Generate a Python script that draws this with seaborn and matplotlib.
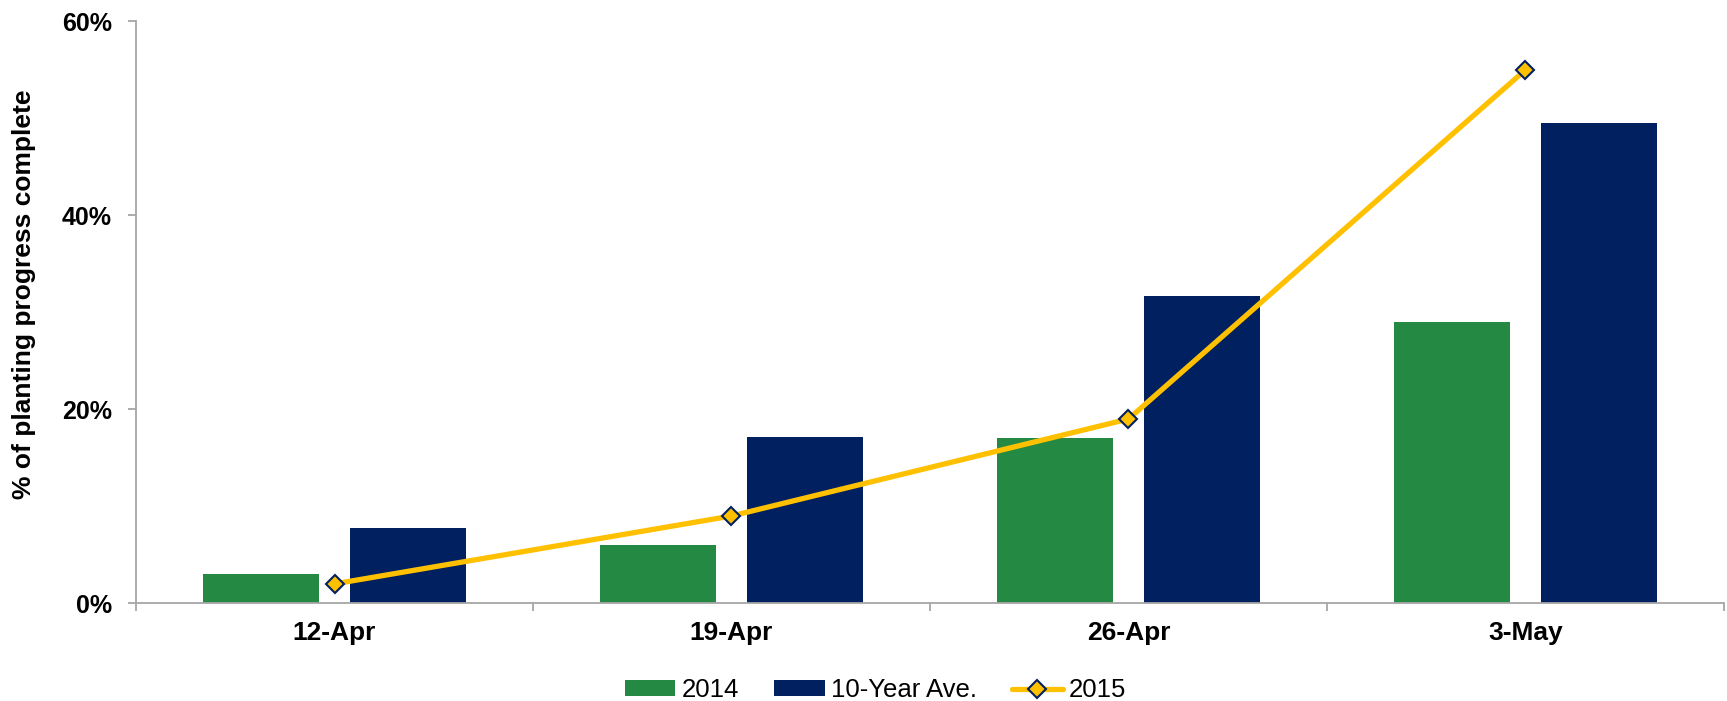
import matplotlib
matplotlib.use("Agg")
import matplotlib.pyplot as plt
from matplotlib.patches import Patch
from matplotlib.lines import Line2D
from matplotlib.ticker import FixedLocator, PercentFormatter
import seaborn as sns
import pandas as pd

# Weekly planting progress (% complete)
weeks = ["12-Apr", "19-Apr", "26-Apr", "3-May"]
progress_2014 = [3, 6, 17, 29]
progress_10yr = [7.8, 17.1, 31.7, 49.5]
progress_2015 = [2, 9, 19, 55]
series_names = ["2014", "10-Year Ave.", "2015"]
y_ticks = [0, 20, 40, 60]

GREEN = "#248A43"
NAVY = "#002060"
GOLD = "#FFC000"
AXIS_GREY = "#A6A6A6"
TEXT = "black"

sns.set_style("white")
plt.rcParams["font.family"] = ["Liberation Sans", "DejaVu Sans"]
plt.rcParams["text.color"] = TEXT
plt.rcParams["axes.labelcolor"] = TEXT

bars = pd.DataFrame({
    "week": weeks * 2,
    "pct": progress_2014 + progress_10yr,
    "series": [series_names[0]] * len(weeks) + [series_names[1]] * len(weeks),
})

fig = plt.figure(figsize=(17.27, 7.01), dpi=100)
ax = fig.add_axes([0.07875, 0.1394, 0.91951, 0.8302])

sns.barplot(
    data=bars, x="week", y="pct", hue="series",
    hue_order=series_names[:2], order=weeks,
    palette=[GREEN, NAVY], width=0.739, gap=0.209,
    saturation=1, legend=False, ax=ax,
    edgecolor="none",
)

sns.pointplot(
    x=weeks, y=progress_2015, order=weeks, color=GOLD,
    markers="D", linestyles="-", errorbar=None, ax=ax,
)
for ln in ax.lines:
    ln.set_linewidth(3.8)
    ln.set_markersize(9)
    ln.set_markerfacecolor(GOLD)
    ln.set_markeredgecolor(NAVY)
    ln.set_markeredgewidth(1.5)
    ln.set_zorder(5)

ax.set_xlim(-0.5, len(weeks) - 0.5)
ax.set_ylim(0, 60)
ax.yaxis.set_major_locator(FixedLocator(y_ticks))
ax.yaxis.set_major_formatter(PercentFormatter(decimals=0))

# Category boundaries carry the x tick marks
ax.xaxis.set_minor_locator(FixedLocator([i - 0.5 for i in range(len(weeks) + 1)]))
ax.tick_params(axis="x", which="major", length=0, pad=13, labelsize=19,
               labelcolor=TEXT)
ax.tick_params(axis="x", which="minor", length=6, width=1.3, color=AXIS_GREY,
               direction="out", bottom=True)
ax.tick_params(axis="y", which="major", length=6, width=1.3, color=AXIS_GREY,
               direction="out", left=True, pad=11.3, labelsize=18,
               labelcolor=TEXT)
for lbl in ax.get_xticklabels() + ax.get_yticklabels():
    lbl.set_fontweight("bold")

for side in ("top", "right"):
    ax.spines[side].set_visible(False)
for side in ("left", "bottom"):
    ax.spines[side].set_color(AXIS_GREY)
    ax.spines[side].set_linewidth(1.3)

ax.set_xlabel("")
ax.set_ylabel("% of planting progress complete", fontsize=19,
              fontweight="bold", color=TEXT)
ax.yaxis.set_label_coords(-0.063, 0.531)

handles = [
    Patch(facecolor=GREEN, edgecolor="none"),
    Patch(facecolor=NAVY, edgecolor="none"),
    Line2D([], [], color=GOLD, linewidth=3.8, marker="D", markersize=9,
           markerfacecolor=GOLD, markeredgecolor=NAVY, markeredgewidth=1.5),
]
fig.legend(
    handles, series_names, loc="center", bbox_to_anchor=(0.507, 0.0157),
    ncol=3, frameon=False, fontsize=18.5, handlelength=1.97, handleheight=0.55,
    handletextpad=0.26, columnspacing=1.35, labelcolor=TEXT,
)

fig.savefig("out.png", dpi=100)
